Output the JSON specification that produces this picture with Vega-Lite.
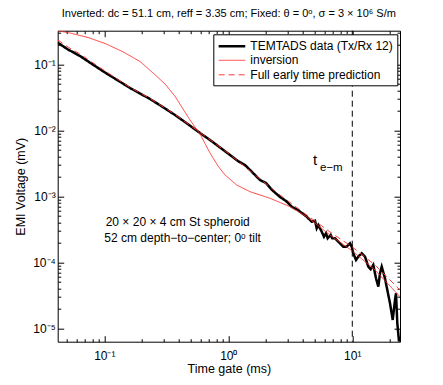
{
  "$schema": "https://vega.github.io/schema/vega-lite/v6.json",
  "width": 342.3,
  "height": 311,
  "autosize": "none",
  "padding": {"left": 57.7, "top": 30.7, "right": 43, "bottom": 43.3},
  "config": {
    "font": "Liberation Sans",
    "view": {"stroke": "black", "strokeWidth": 1},
    "axis": {"grid": false, "domainColor": "black", "tickColor": "black", "labelColor": "black", "titleColor": "black", "labelFont": "Liberation Sans", "titleFont": "Liberation Sans", "labelFontSize": 12, "titleFontSize": 12.5, "titleFontWeight": "normal", "labelOverlap": false, "labelFlush": false},
    "legend": {"orient": "none", "legendX": 155.6, "legendY": 3.6, "labelFont": "Liberation Sans", "labelFontSize": 12, "labelColor": "black", "fillColor": "white", "strokeColor": "black", "padding": 4, "symbolSize": 177, "symbolType": "M-1,0H3", "labelLimit": 300, "rowPadding": 0.5, "cornerRadius": 0, "labelOffset": 17}
  },
  "title": {"text": "Inverted: dc = 51.1 cm, reff = 3.35 cm; Fixed: θ = 0ᵒ, σ = 3 × 10⁶ S/m", "fontSize": 11, "fontWeight": "normal", "font": "Liberation Sans", "anchor": "middle", "frame": "group", "offset": 11, "color": "black"},
  "datasets": {
    "curves": [
      {"series": "TEMTADS data (Tx/Rx 12)", "t": 0.0421, "v": 0.2125},
      {"series": "TEMTADS data (Tx/Rx 12)", "t": 0.05096, "v": 0.1676},
      {"series": "TEMTADS data (Tx/Rx 12)", "t": 0.06368, "v": 0.1336},
      {"series": "TEMTADS data (Tx/Rx 12)", "t": 0.07959, "v": 0.101},
      {"series": "TEMTADS data (Tx/Rx 12)", "t": 0.1013, "v": 0.0751},
      {"series": "TEMTADS data (Tx/Rx 12)", "t": 0.129, "v": 0.05682},
      {"series": "TEMTADS data (Tx/Rx 12)", "t": 0.1612, "v": 0.04374},
      {"series": "TEMTADS data (Tx/Rx 12)", "t": 0.1941, "v": 0.0361},
      {"series": "TEMTADS data (Tx/Rx 12)", "t": 0.2336, "v": 0.0298},
      {"series": "TEMTADS data (Tx/Rx 12)", "t": 0.292, "v": 0.02294},
      {"series": "TEMTADS data (Tx/Rx 12)", "t": 0.3717, "v": 0.01705},
      {"series": "TEMTADS data (Tx/Rx 12)", "t": 0.4645, "v": 0.01268},
      {"series": "TEMTADS data (Tx/Rx 12)", "t": 0.5913, "v": 0.009101},
      {"series": "TEMTADS data (Tx/Rx 12)", "t": 0.7118, "v": 0.007129},
      {"series": "TEMTADS data (Tx/Rx 12)", "t": 0.8574, "v": 0.005488},
      {"series": "TEMTADS data (Tx/Rx 12)", "t": 1.032, "v": 0.004225},
      {"series": "TEMTADS data (Tx/Rx 12)", "t": 1.197, "v": 0.003426},
      {"series": "TEMTADS data (Tx/Rx 12)", "t": 1.363, "v": 0.00298},
      {"series": "TEMTADS data (Tx/Rx 12)", "t": 1.553, "v": 0.002335},
      {"series": "TEMTADS data (Tx/Rx 12)", "t": 1.801, "v": 0.001766},
      {"series": "TEMTADS data (Tx/Rx 12)", "t": 2.014, "v": 0.00159},
      {"series": "TEMTADS data (Tx/Rx 12)", "t": 2.251, "v": 0.001246},
      {"series": "TEMTADS data (Tx/Rx 12)", "t": 2.612, "v": 0.0009759},
      {"series": "TEMTADS data (Tx/Rx 12)", "t": 2.92, "v": 0.0008488},
      {"series": "TEMTADS data (Tx/Rx 12)", "t": 3.264, "v": 0.0006884},
      {"series": "TEMTADS data (Tx/Rx 12)", "t": 3.648, "v": 0.00062},
      {"series": "TEMTADS data (Tx/Rx 12)", "t": 3.786, "v": 0.0005844},
      {"series": "TEMTADS data (Tx/Rx 12)", "t": 4.289, "v": 0.0004907},
      {"series": "TEMTADS data (Tx/Rx 12)", "t": 4.706, "v": 0.0004123},
      {"series": "TEMTADS data (Tx/Rx 12)", "t": 5.002, "v": 0.0004269},
      {"series": "TEMTADS data (Tx/Rx 12)", "t": 5.163, "v": 0.0003275},
      {"series": "TEMTADS data (Tx/Rx 12)", "t": 5.319, "v": 0.0003675},
      {"series": "TEMTADS data (Tx/Rx 12)", "t": 5.665, "v": 0.0002908},
      {"series": "TEMTADS data (Tx/Rx 12)", "t": 5.913, "v": 0.0002442},
      {"series": "TEMTADS data (Tx/Rx 12)", "t": 6.137, "v": 0.000275},
      {"series": "TEMTADS data (Tx/Rx 12)", "t": 6.333, "v": 0.000231},
      {"series": "TEMTADS data (Tx/Rx 12)", "t": 6.696, "v": 0.0002592},
      {"series": "TEMTADS data (Tx/Rx 12)", "t": 6.898, "v": 0.000231},
      {"series": "TEMTADS data (Tx/Rx 12)", "t": 7.253, "v": 0.000231},
      {"series": "TEMTADS data (Tx/Rx 12)", "t": 7.713, "v": 0.0002051},
      {"series": "TEMTADS data (Tx/Rx 12)", "t": 8.462, "v": 0.0001723},
      {"series": "TEMTADS data (Tx/Rx 12)", "t": 9.013, "v": 0.0001723},
      {"series": "TEMTADS data (Tx/Rx 12)", "t": 9.583, "v": 0.000194},
      {"series": "TEMTADS data (Tx/Rx 12)", "t": 9.89, "v": 0.0001723},
      {"series": "TEMTADS data (Tx/Rx 12)", "t": 10.19, "v": 0.0001369},
      {"series": "TEMTADS data (Tx/Rx 12)", "t": 10.71, "v": 0.0001083},
      {"series": "TEMTADS data (Tx/Rx 12)", "t": 11.18, "v": 0.0001216},
      {"series": "TEMTADS data (Tx/Rx 12)", "t": 11.91, "v": 0.0001369},
      {"series": "TEMTADS data (Tx/Rx 12)", "t": 12.66, "v": 0.0001216},
      {"series": "TEMTADS data (Tx/Rx 12)", "t": 13.46, "v": 0.00008577},
      {"series": "TEMTADS data (Tx/Rx 12)", "t": 14.07, "v": 0.00007833},
      {"series": "TEMTADS data (Tx/Rx 12)", "t": 14.77, "v": 0.00009101},
      {"series": "TEMTADS data (Tx/Rx 12)", "t": 15.53, "v": 0.00005722},
      {"series": "TEMTADS data (Tx/Rx 12)", "t": 16.21, "v": 0.00004269},
      {"series": "TEMTADS data (Tx/Rx 12)", "t": 16.73, "v": 0.00006812},
      {"series": "TEMTADS data (Tx/Rx 12)", "t": 17.27, "v": 0.00008577},
      {"series": "TEMTADS data (Tx/Rx 12)", "t": 18.35, "v": 0.00005722},
      {"series": "TEMTADS data (Tx/Rx 12)", "t": 19.16, "v": 0.00003805},
      {"series": "TEMTADS data (Tx/Rx 12)", "t": 20.14, "v": 0.00002392},
      {"series": "TEMTADS data (Tx/Rx 12)", "t": 21.18, "v": 0.00001336},
      {"series": "TEMTADS data (Tx/Rx 12)", "t": 22.11, "v": 0.00002684},
      {"series": "TEMTADS data (Tx/Rx 12)", "t": 22.52, "v": 0.00003391},
      {"series": "TEMTADS data (Tx/Rx 12)", "t": 23.07, "v": 0.00001191},
      {"series": "TEMTADS data (Tx/Rx 12)", "t": 23.81, "v": 0.00000627},
      {"series": "TEMTADS data (Tx/Rx 12)", "t": 24.25, "v": 0.00000746},
      {"series": "inversion", "t": 0.0421, "v": 0.322},
      {"series": "inversion", "t": 0.05289, "v": 0.298},
      {"series": "inversion", "t": 0.07387, "v": 0.2547},
      {"series": "inversion", "t": 0.1013, "v": 0.2066},
      {"series": "inversion", "t": 0.1389, "v": 0.1574},
      {"series": "inversion", "t": 0.1941, "v": 0.1103},
      {"series": "inversion", "t": 0.2564, "v": 0.06956},
      {"series": "inversion", "t": 0.3087, "v": 0.05029},
      {"series": "inversion", "t": 0.3717, "v": 0.03275},
      {"series": "inversion", "t": 0.4312, "v": 0.02102},
      {"series": "inversion", "t": 0.4911, "v": 0.01432},
      {"series": "inversion", "t": 0.5913, "v": 0.008789},
      {"series": "inversion", "t": 0.7118, "v": 0.00453},
      {"series": "inversion", "t": 0.8261, "v": 0.002878},
      {"series": "inversion", "t": 0.9406, "v": 0.002102},
      {"series": "inversion", "t": 1.168, "v": 0.001483},
      {"series": "inversion", "t": 1.496, "v": 0.001174},
      {"series": "inversion", "t": 2.169, "v": 0.0009326},
      {"series": "inversion", "t": 3.146, "v": 0.0006958},
      {"series": "inversion", "t": 4.289, "v": 0.0004907},
      {"series": "inversion", "t": 6.61, "v": 0.0002592},
      {"series": "inversion", "t": 10.0, "v": 0.0001483},
      {"series": "inversion", "t": 15.25, "v": 0.00007643},
      {"series": "inversion", "t": 24.25, "v": 0.00003011},
      {"series": "Full early time prediction", "t": 0.0421, "v": 0.2335},
      {"series": "Full early time prediction", "t": 0.05096, "v": 0.1829},
      {"series": "Full early time prediction", "t": 0.06368, "v": 0.1432},
      {"series": "Full early time prediction", "t": 0.1013, "v": 0.07915},
      {"series": "Full early time prediction", "t": 0.1612, "v": 0.04451},
      {"series": "Full early time prediction", "t": 0.2336, "v": 0.03033},
      {"series": "Full early time prediction", "t": 0.3717, "v": 0.01736},
      {"series": "Full early time prediction", "t": 0.5913, "v": 0.009262},
      {"series": "Full early time prediction", "t": 1.032, "v": 0.004299},
      {"series": "Full early time prediction", "t": 1.801, "v": 0.001829},
      {"series": "Full early time prediction", "t": 2.612, "v": 0.001046},
      {"series": "Full early time prediction", "t": 3.786, "v": 0.00062},
      {"series": "Full early time prediction", "t": 6.61, "v": 0.0002878},
      {"series": "Full early time prediction", "t": 10.0, "v": 0.0001705},
      {"series": "Full early time prediction", "t": 15.25, "v": 0.00009101},
      {"series": "Full early time prediction", "t": 24.25, "v": 0.00003805}
    ],
    "notes": [
      {"kind": "main", "t": 0.1026, "v": 0.000408, "label": "20 × 20 × 4 cm St spheroid"},
      {"kind": "main", "t": 0.1, "v": 0.000231, "label": "52 cm depth−to−center; 0ᵒ tilt"},
      {"kind": "t", "t": 4.822, "v": 0.003548, "label": "t"},
      {"kind": "sub", "t": 5.49, "v": 0.002684, "label": "e−m"}
    ],
    "marker": [{"t": 10}]
  },
  "layer": [
    {
      "data": {"name": "curves"},
      "mark": {"type": "line", "clip": true},
      "encoding": {
        "x": {"field": "t", "type": "quantitative", "scale": {"type": "log", "domain": [0.04209, 24.25], "nice": false},
          "axis": {"orient": "bottom", "title": "Time gate (ms)", "ticks": false, "domain": false, "values": [0.1, 1, 10],
            "labelExpr": "datum.value == 0.1 ? '10⁻¹' : datum.value == 1 ? '10⁰' : datum.value == 10 ? '10¹' : ''",
            "labelPadding": 9, "titlePadding": 1}},
        "y": {"field": "v", "type": "quantitative", "scale": {"type": "log", "domain": [0.00000626, 0.3229], "nice": false},
          "axis": {"orient": "left", "title": "EMI Voltage (mV)", "ticks": false, "domain": false, "values": [0.00001, 0.0001, 0.001, 0.01, 0.1],
            "labelExpr": "datum.value == 0.1 ? '10⁻¹' : datum.value == 0.01 ? '10⁻²' : datum.value == 0.001 ? '10⁻³' : datum.value == 0.0001 ? '10⁻⁴' : datum.value == 0.00001 ? '10⁻⁵' : ''",
            "labelPadding": 2.5, "titlePadding": 5}},
        "color": {"field": "series", "type": "nominal", "scale": {"domain": ["TEMTADS data (Tx/Rx 12)", "inversion", "Full early time prediction"], "range": ["black", "#ff2a2a", "#ff2a2a"]}, "legend": {"title": null}},
        "strokeDash": {"field": "series", "type": "nominal", "scale": {"domain": ["TEMTADS data (Tx/Rx 12)", "inversion", "Full early time prediction"], "range": [[1,0],[1,0],[6,4]]}, "legend": {"title": null}},
        "strokeWidth": {"field": "series", "type": "nominal", "scale": {"type": "ordinal", "domain": ["TEMTADS data (Tx/Rx 12)", "inversion", "Full early time prediction"], "range": [2.5, 0.9, 0.9]}, "legend": {"title": null}}
      }
    },
    {
      "data": {"name": "marker"},
      "mark": {"type": "rule", "color": "black", "strokeDash": [6, 4], "strokeWidth": 1},
      "encoding": {"x": {"field": "t", "type": "quantitative", "axis": null}}
    },
    {
      "data": {"name": "notes"},
      "transform": [{"filter": "datum.kind == 'main'"}],
      "mark": {"type": "text", "align": "left", "baseline": "middle", "fontSize": 12, "font": "Liberation Sans", "color": "black"},
      "encoding": {
        "x": {"field": "t", "type": "quantitative",
          "axis": {"orient": "top", "title": null, "labels": false, "domain": false, "values": [0.05,0.06,0.07,0.08,0.09,0.1,0.2,0.3,0.4,0.5,0.6,0.7,0.8,0.9,1,2,3,4,5,6,7,8,9,10,20],
            "tickSize": {"condition": {"test": "datum.value == 0.1 || datum.value == 1 || datum.value == 10", "value": -6}, "value": -3}}},
        "y": {"field": "v", "type": "quantitative",
          "axis": {"orient": "right", "title": null, "labels": false, "domain": false, "values": [0.00001,0.00002,0.00003,0.00004,0.00005,0.00006,0.00007,0.00008,0.00009,0.0001,0.0002,0.0003,0.0004,0.0005,0.0006,0.0007,0.0008,0.0009,0.001,0.002,0.003,0.004,0.005,0.006,0.007,0.008,0.009,0.01,0.02,0.03,0.04,0.05,0.06,0.07,0.08,0.09,0.1,0.2,0.3],
            "tickSize": {"condition": {"test": "datum.value == 0.1 || datum.value == 0.01 || datum.value == 0.001 || datum.value == 0.0001 || datum.value == 0.00001", "value": -6}, "value": -3}}},
        "text": {"field": "label"}
      }
    },
    {
      "data": {"name": "notes"},
      "transform": [{"filter": "datum.kind == 't'"}],
      "mark": {"type": "text", "align": "left", "baseline": "middle", "fontSize": 15, "font": "Liberation Sans", "color": "black"},
      "encoding": {
        "x": {"field": "t", "type": "quantitative",
          "axis": {"orient": "bottom", "title": null, "labels": false, "domain": false, "values": [0.05,0.06,0.07,0.08,0.09,0.1,0.2,0.3,0.4,0.5,0.6,0.7,0.8,0.9,1,2,3,4,5,6,7,8,9,10,20],
            "tickSize": {"condition": {"test": "datum.value == 0.1 || datum.value == 1 || datum.value == 10", "value": -6}, "value": -3}}},
        "y": {"field": "v", "type": "quantitative",
          "axis": {"orient": "left", "title": null, "labels": false, "domain": false, "values": [0.00001,0.00002,0.00003,0.00004,0.00005,0.00006,0.00007,0.00008,0.00009,0.0001,0.0002,0.0003,0.0004,0.0005,0.0006,0.0007,0.0008,0.0009,0.001,0.002,0.003,0.004,0.005,0.006,0.007,0.008,0.009,0.01,0.02,0.03,0.04,0.05,0.06,0.07,0.08,0.09,0.1,0.2,0.3],
            "tickSize": {"condition": {"test": "datum.value == 0.1 || datum.value == 0.01 || datum.value == 0.001 || datum.value == 0.0001 || datum.value == 0.00001", "value": -6}, "value": -3}}},
        "text": {"field": "label"}
      }
    },
    {
      "data": {"name": "notes"},
      "transform": [{"filter": "datum.kind == 'sub'"}],
      "mark": {"type": "text", "align": "left", "baseline": "middle", "fontSize": 11.5, "font": "Liberation Sans", "color": "black"},
      "encoding": {
        "x": {"field": "t", "type": "quantitative", "axis": null},
        "y": {"field": "v", "type": "quantitative", "axis": null},
        "text": {"field": "label"}
      }
    }
  ],
  "resolve": {"axis": {"x": "independent", "y": "independent"}}
}
